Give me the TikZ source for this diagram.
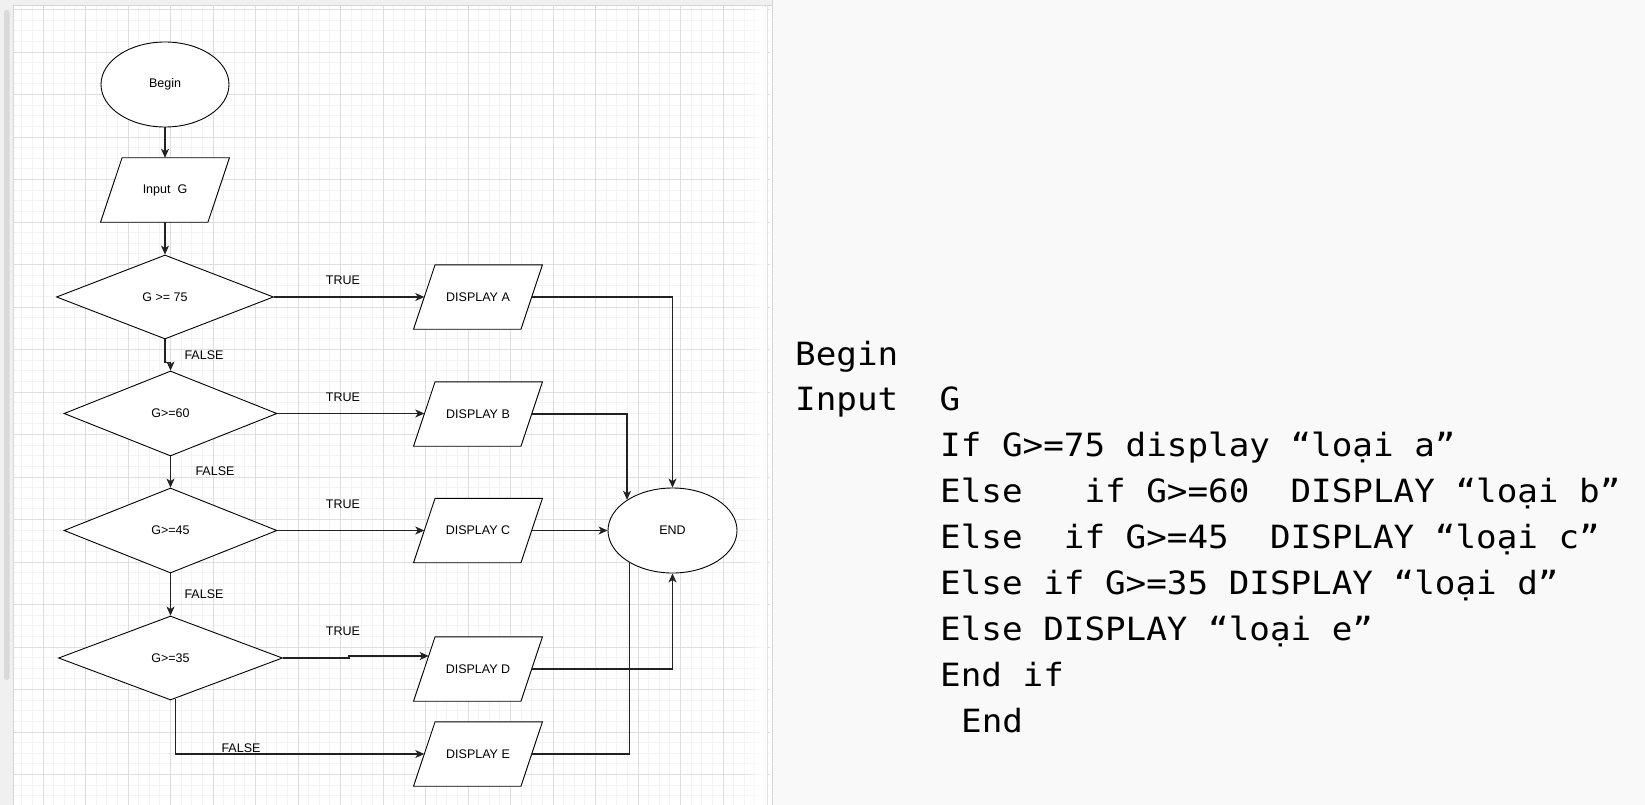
\documentclass[tikz,border=0pt]{standalone}
\usepackage{fontspec}
\setmainfont{Liberation Sans}
\newfontfamily\codefont[FakeStretch=1.07]{DejaVu Sans Mono}
\usetikzlibrary{shapes.geometric,arrows.meta,fadings,calc}
\definecolor{gridminor}{HTML}{F3F3F3}
\definecolor{gridmajor}{HTML}{DEDEDE}
\definecolor{panel}{HTML}{F9F9F9}
\definecolor{chrome}{HTML}{F0F0F0}
\definecolor{chromeline}{HTML}{D6D6D6}
\definecolor{thumb}{HTML}{D9D9D9}
\definecolor{conn}{HTML}{222222}
\tikzfading[name=fadeR, left color=transparent!100, right color=transparent!0]
\pgfdeclarelayer{bg}
\pgfdeclarelayer{shp}
\pgfsetlayers{bg,shp,main}
\begin{document}
\begin{tikzpicture}[x=1pt,y=-1pt,
  txt/.style={font=\fontsize{12.5}{14}\selectfont, text=black},
  term/.style={ellipse, draw=black, line width=0.9pt, fill=white, minimum width=128, minimum height=85, inner sep=0pt, txt},
  iobox/.style={rectangle, draw=none, minimum width=107, minimum height=64, inner sep=0pt, txt},
  ioshape/.style={draw=black, line width=0.9pt, fill=white, line join=miter},
  dec/.style={diamond, draw=black, line width=0.9pt, fill=white, inner sep=0pt, txt},
  arr/.style={draw=conn, line width=1.1pt, -{Stealth[length=9pt,width=8pt,inset=2.5pt]}},
  plain/.style={draw=conn, line width=1.1pt},
  lbl/.style={txt, inner sep=0pt},
  code/.style={anchor=base west, inner sep=0pt, font=\codefont\fontsize{32}{38}\selectfont, text=black}
]
\useasboundingbox (0,0) rectangle (1645,805);
\begin{pgfonlayer}{bg}
% panels
\fill[white] (0,0) rectangle (772,805);
\fill[panel] (772,0) rectangle (1645,805);
% grid
\begin{scope}
\clip (13.5,6) rectangle (770,805);
\foreach \j in {1,...,73} {
  \pgfmathsetmacro\gx{0.5+10.625*\j}
  \draw[gridminor, line width=0.8pt] (\gx,6) -- (\gx,805);
}
\foreach \j in {0,...,75} {
  \pgfmathsetmacro\gy{9.5+10.625*\j}
  \draw[gridminor, line width=0.8pt] (13.5,\gy) -- (770,\gy);
}
\foreach \j in {1,...,18} {
  \pgfmathsetmacro\gx{0.5+42.5*\j}
  \draw[gridmajor, line width=0.9pt] (\gx,6) -- (\gx,805);
}
\foreach \j in {0,...,19} {
  \pgfmathsetmacro\gy{9.5+42.5*\j}
  \draw[gridmajor, line width=0.9pt] (13.5,\gy) -- (770,\gy);
}
\end{scope}
\fill[white, path fading=fadeR] (740,6) rectangle (767,805);
\draw[chromeline!70, line width=0.8pt] (767.5,6) -- (767.5,805);
\draw[chromeline, line width=1pt] (772,0) -- (772,805);
% chrome
\fill[chrome] (0,0) rectangle (772,5.5);
\draw[chromeline, line width=0.8pt] (0,5.5) -- (772,5.5);
\fill[chrome] (0,5.5) rectangle (13,805);
\draw[chromeline, line width=0.8pt] (13.2,5.5) -- (13.2,805);
\fill[thumb, rounded corners=2.5pt] (4,10) rectangle (9.5,680);
\end{pgfonlayer}

% flowchart nodes
\node[term] (begin) at (165,84.5) {Begin};
\node[iobox] (inp) at (165,190) {Input\ \ G};
\node[dec, minimum width=217, minimum height=84] (d1) at (165,297) {G >= 75};
\node[dec, minimum width=213, minimum height=85] (d2) at (170.5,413.5) {G>=60};
\node[dec, minimum width=213, minimum height=85] (d3) at (170.5,530.5) {G>=45};
\node[dec, minimum width=224, minimum height=84] (d4) at (170.5,658) {G>=35};
\node[iobox] (dA) at (478,297) {DISPLAY A};
\node[iobox] (dB) at (478,414) {DISPLAY B};
\node[iobox] (dC) at (478,530.5) {DISPLAY C};
\node[iobox] (dD) at (478,669) {DISPLAY D};
\node[iobox] (dE) at (478,754) {DISPLAY E};
\node[term, minimum width=129] (end) at (672.5,530.5) {END};

% parallelogram outlines behind the io nodes
\begin{pgfonlayer}{shp}
\foreach \n in {inp,dA,dB,dC,dD,dE} {
  \draw[ioshape] ($(\n.south west)+(-10.75,0)$) -- ($(\n.south east)+(-10.75,0)$)
     -- ($(\n.north east)+(10.75,0)$) -- ($(\n.north west)+(10.75,0)$) -- cycle;
}
\end{pgfonlayer}

% labels
\node[lbl] (t1) at (343,280) {TRUE};
\node[lbl] (t2) at (343,397) {TRUE};
\node[lbl] (t3) at (343,504) {TRUE};
\node[lbl] (t4) at (343,631) {TRUE};
\node[lbl] (f1) at (204,355) {FALSE};
\node[lbl] (f2) at (215,471) {FALSE};
\node[lbl] (f3) at (204,594) {FALSE};
\node[lbl] (f4) at (241,748) {FALSE};

% connectors
\draw[arr] (begin.south) -- (inp.north);
\draw[arr] (inp.south) -- (d1.north);
\draw[arr] (d1.south) -- ++(0,23) -| (d2.north);
\draw[arr] (d2.south) -- (d3.north);
\draw[arr] (d3.south) -- (d4.north);
\draw[arr] (d1.east) -- (dA.west);
\draw[arr] (d2.east) -- (d2.east -| dB.west);
\draw[arr] (d3.east) -- (dC.west);
\draw[arr] (d4.east) -- ++(66,0) -- ++(0,-2) -- ($(dD.west)+(4.4,-13)$);
\draw[arr] ($(d4.south)+(5,-1.9)$) |- (dE.west);
\draw[arr] (dA.east) -| (end.north);
\draw[arr] (dB.east) -| (end.146.5);
\draw[arr] (dC.east) -- (end.west);
\draw[arr] (dD.east) -| (end.south);
\draw[plain] (dE.east) -| (end.217);

% code text
\node[code] (c1) at (795,365) {Begin};
\node[code] (c2) at (795,410.9) {Input\ \ G};
\node[code] (c3) at (940,456.8) {If G>=75 display “loại a”};
\node[code] (c4) at (940,502.7) {Else\ \ \ if G>=60\ \ DISPLAY “loại b”};
\node[code] (c5) at (940,548.6) {Else\ \ if G>=45\ \ DISPLAY “loại c”};
\node[code] (c6) at (940,594.5) {Else if G>=35 DISPLAY “loại d”};
\node[code] (c7) at (940,640.4) {Else DISPLAY “loại e”};
\node[code] (c8) at (940,686.3) {End if};
\node[code] (c9) at (961,732.2) {End};
\end{tikzpicture}
\end{document}
